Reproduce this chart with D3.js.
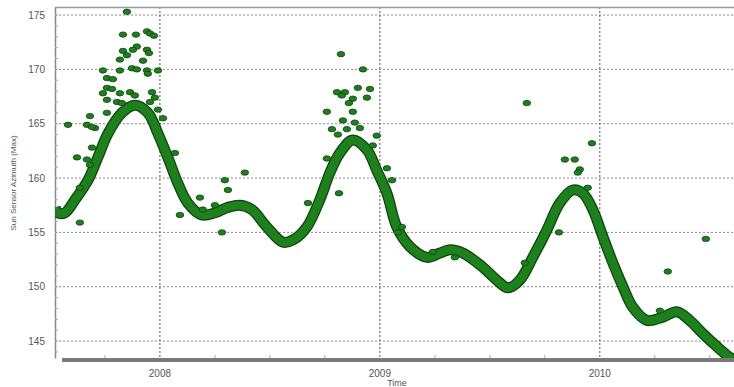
<!DOCTYPE html>
<html>
<head>
<meta charset="utf-8">
<script src="https://cdn.jsdelivr.net/npm/d3@7"></script>
<style>
  body { margin: 0; background: #fff; }
  text { font-family: "Liberation Sans", Arial, sans-serif; }
</style>
</head>
<body>
<svg id="svg"></svg>
<script>
// sun sensor azimuth (max), decimal years
let curveTime = [2007.523, 2007.536, 2007.568, 2007.614, 2007.673, 2007.718, 2007.764, 2007.827, 2007.886, 2007.945,
    2007.991, 2008.036, 2008.082, 2008.127, 2008.191, 2008.25, 2008.309, 2008.364, 2008.418, 2008.486,
    2008.559, 2008.605, 2008.668, 2008.727, 2008.773, 2008.818, 2008.877, 2008.941, 2008.986, 2009.032,
    2009.077, 2009.136, 2009.214, 2009.273, 2009.318, 2009.377, 2009.468, 2009.532, 2009.582, 2009.636,
    2009.695, 2009.759, 2009.818, 2009.877, 2009.923, 2009.968, 2010.014, 2010.059, 2010.105, 2010.15,
    2010.214, 2010.286, 2010.35, 2010.409, 2010.468, 2010.532, 2010.591, 2010.61];
let curveValue = [157.3, 156.8, 156.8, 158.0, 159.8, 161.9, 164.1, 166.0, 166.7, 166.0,
    164.1, 161.9, 159.5, 157.7, 156.6, 156.8, 157.3, 157.5, 157.1, 155.5,
    154.1, 154.3, 155.5, 158.0, 160.5, 162.3, 163.5, 162.6, 160.7, 158.6,
    155.5, 153.7, 152.7, 153.1, 153.4, 153.1, 151.8, 150.6, 149.9, 150.6,
    152.7, 155.2, 157.7, 158.9, 158.6, 157.1, 154.6, 152.2, 150.0, 148.1,
    146.9, 147.2, 147.7, 146.9, 145.7, 144.5, 143.5, 143.3];

let outlierTime = [2007.85, 2007.832, 2007.891, 2007.941, 2007.955, 2007.973, 2007.895, 2007.877, 2007.941, 2007.832,
    2007.85, 2007.818, 2007.923, 2007.95, 2007.873, 2007.895, 2007.741, 2007.818, 2007.941, 2007.991,
    2007.759, 2007.786, 2007.945, 2007.759, 2007.782, 2007.818, 2007.741, 2007.864, 2007.886, 2007.964,
    2007.977, 2007.759, 2007.805, 2007.827, 2007.955, 2007.991, 2007.682, 2007.759, 2007.582, 2007.668,
    2007.705, 2008.014, 2007.691, 2007.623, 2007.668, 2007.682, 2007.691, 2007.636, 2007.636, 2008.068,
    2008.091, 2008.182, 2008.25, 2008.295, 2008.309, 2008.386, 2008.282, 2008.195,
    2008.823, 2008.923, 2008.805, 2008.841, 2008.827, 2008.9, 2008.955, 2008.877, 2008.859, 2008.941,
    2008.759, 2008.877, 2008.832, 2008.886, 2008.909, 2008.782, 2008.809, 2008.85, 2008.986, 2008.968,
    2008.759, 2008.814, 2009.032, 2009.055, 2008.673, 2009.1, 2009.082, 2009.241, 2009.341,
    2009.668, 2009.964, 2009.841, 2009.886, 2009.909, 2009.9, 2009.945, 2009.814, 2010.309, 2010.482,
    2009.659, 2010.273];
let outlierValue = [175.3, 173.2, 173.2, 173.5, 173.3, 173.1, 172.1, 171.8, 171.8, 171.7,
    171.3, 170.9, 170.8, 171.5, 170.1, 170.0, 169.9, 169.9, 169.9, 169.9,
    169.2, 169.1, 169.6, 168.3, 168.2, 167.8, 167.8, 167.9, 167.6, 167.9,
    167.4, 167.2, 167.0, 166.9, 167.0, 166.3, 165.7, 166.0, 164.9, 164.9,
    164.6, 165.5, 164.7, 161.9, 161.7, 161.2, 162.8, 159.1, 155.9, 162.3,
    156.6, 158.2, 157.5, 159.8, 158.9, 160.5, 155.0, 157.1,
    171.4, 170.0, 167.9, 167.9, 167.6, 168.3, 168.2, 167.3, 166.9, 167.4,
    166.1, 166.1, 165.3, 165.1, 164.6, 164.5, 164.0, 164.5, 163.9, 163.0,
    161.8, 158.6, 160.9, 159.8, 157.7, 155.5, 155.0, 153.2, 152.7,
    166.9, 163.2, 161.7, 161.7, 160.8, 160.5, 159.1, 155.0, 151.4, 154.4,
    152.2, 147.8];

let yTicks = [145, 150, 155, 160, 165, 170, 175];
let xTicks = [2008, 2009, 2010];

function sketch() {
    let svg = d3.select("#svg");
    let width = 734;
    let height = 387;
    svg.attr("width", width)
	.attr("height", height);

    let left = 55, right = 734, top = 7, bottom = 358;
    let green = "#1d801d";
    let darkGreen = "#0f420f";
    let gridColor = "#8a8a8a";
    let textColor = "#555";

    let x = d3.scaleLinear().domain([2007.523, 2010.61]).range([left, right]);
    let y = d3.scaleLinear().domain([143.44, 175.74]).range([bottom, top]);

    let g = svg.append('g');

    // grid
    g.selectAll("line.hgrid")
	.data(yTicks)
	.enter().append("line")
	.attr("class", "hgrid")
	.attr("x1", left).attr("x2", right)
	.attr("y1", (d) => y(d)).attr("y2", (d) => y(d))
	.attr("stroke", gridColor)
	.attr("stroke-width", 1)
	.attr("stroke-dasharray", "2,2");

    g.selectAll("line.vgrid")
	.data(xTicks)
	.enter().append("line")
	.attr("class", "vgrid")
	.attr("x1", (d) => x(d)).attr("x2", (d) => x(d))
	.attr("y1", top).attr("y2", bottom + 4)
	.attr("stroke", "#555")
	.attr("stroke-width", 1)
	.attr("stroke-dasharray", "2,2");

    // top border and left axis
    g.append("line")
	.attr("x1", left).attr("x2", right)
	.attr("y1", top + 0.5).attr("y2", top + 0.5)
	.attr("stroke", "#9a9a9a").attr("stroke-width", 1.5);

    let yAxis = d3.axisLeft(y)
	.tickValues(yTicks)
	.tickSize(0)
	.tickPadding(10)
	.tickFormat(d3.format("d"));
    let ya = g.append("g")
	.attr("transform", `translate(${left},0)`)
	.call(yAxis);
    ya.select(".domain").attr("stroke", "#888").attr("stroke-width", 1.5);
    ya.selectAll("text")
	.attr("fill", textColor)
	.style("font-size", "10px");

    // minor y ticks, one per unit
    g.selectAll("line.ymin")
	.data(d3.range(144, 176))
	.enter().append("line")
	.attr("class", "ymin")
	.attr("x1", left).attr("x2", left + 3)
	.attr("y1", (d) => y(d)).attr("y2", (d) => y(d))
	.attr("stroke", "#aaa");

    // bottom bar
    g.append("rect")
	.attr("x", left + 7).attr("y", bottom)
	.attr("width", right - left - 7).attr("height", 4)
	.attr("fill", "#7a7a7a");

    // minor x ticks, quarters
    let quarters = d3.range(2007.75, 2010.6, 0.25).filter((d) => xTicks.indexOf(d) < 0);
    g.selectAll("line.xmin")
	.data(quarters)
	.enter().append("line")
	.attr("class", "xmin")
	.attr("x1", (d) => x(d)).attr("x2", (d) => x(d))
	.attr("y1", bottom - 3).attr("y2", bottom)
	.attr("stroke", "#aaa");

    g.selectAll("text.xlab")
	.data(xTicks)
	.enter().append("text")
	.attr("class", "xlab")
	.attr("x", (d) => x(d))
	.attr("y", 377)
	.attr("text-anchor", "middle")
	.attr("fill", textColor)
	.style("font-size", "10px")
	.text((d) => d);

    g.append("text")
	.attr("x", 397).attr("y", 386)
	.attr("text-anchor", "middle")
	.attr("fill", textColor)
	.style("font-size", "9px")
	.text("Time");

    g.append("text")
	.attr("transform", "translate(16,183) rotate(-90)")
	.attr("text-anchor", "middle")
	.attr("fill", textColor)
	.style("font-size", "8px")
	.text("Sun Sensor Azimuth (Max)");

    // clip for data
    svg.append("clipPath").attr("id", "clip")
	.append("rect")
	.attr("x", left).attr("y", top)
	.attr("width", right - left).attr("height", bottom - top);

    let plot = svg.append("g").attr("clip-path", "url(#clip)");

    let curve = curveTime.map((t, i) => [t, curveValue[i]]);
    let line = d3.line()
	.x((d) => x(d[0]))
	.y((d) => y(d[1]))
	.curve(d3.curveCatmullRom.alpha(0.5));

    plot.append("path")
	.datum(curve)
	.attr("d", line)
	.attr("fill", "none")
	.attr("stroke", darkGreen)
	.attr("stroke-width", 11)
	.attr("stroke-linejoin", "round");
    plot.append("path")
	.datum(curve)
	.attr("d", line)
	.attr("fill", "none")
	.attr("stroke", green)
	.attr("stroke-width", 8.5)
	.attr("stroke-linejoin", "round");

    let outliers = outlierTime.map((t, i) => [t, outlierValue[i]]);
    plot.selectAll("ellipse.pt")
	.data(outliers)
	.enter().append("ellipse")
	.attr("class", "pt")
	.attr("cx", (d) => x(d[0]))
	.attr("cy", (d) => y(d[1]))
	.attr("rx", 3.8)
	.attr("ry", 2.7)
	.attr("fill", green)
	.attr("stroke", darkGreen)
	.attr("stroke-width", 0.8);
}

sketch();
</script>
</body>
</html>
